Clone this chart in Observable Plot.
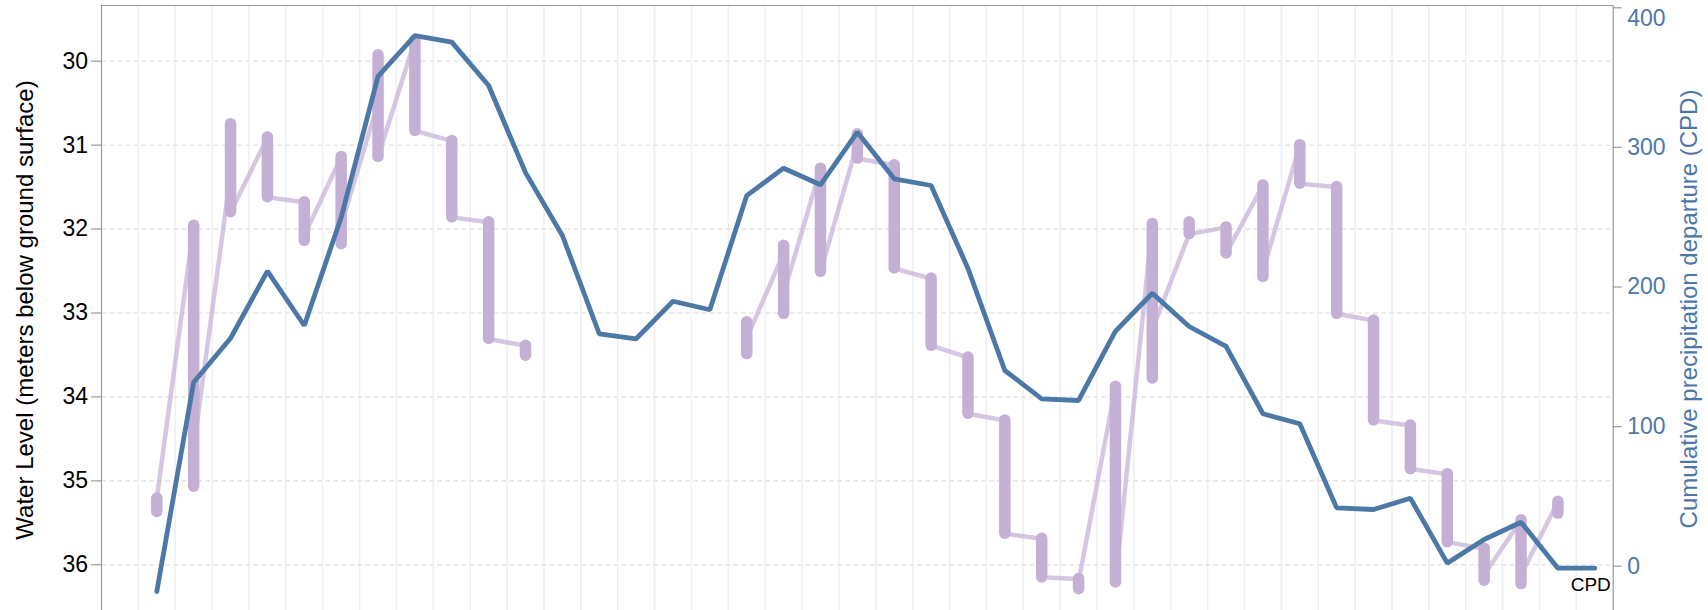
<!DOCTYPE html>
<html>
<head>
<meta charset="utf-8">
<script src="https://cdn.jsdelivr.net/npm/d3@7"></script>
<script src="https://cdn.jsdelivr.net/npm/@observablehq/plot@0.6"></script>
<style>
  html, body { margin: 0; padding: 0; background: #fff; overflow: hidden; }
</style>
</head>
<body>
<div id="chart"></div>
<script>
// ---- Data ----
// Month index (one band per month) for the cumulative precipitation departure
const cpdMonth = [1, 2, 3, 4, 5, 6, 7, 8, 9, 10, 11, 12, 13, 14, 15, 16, 17, 18, 19, 20,
                  21, 22, 23, 24, 25, 26, 27, 28, 29, 30, 31, 32, 33, 34, 35, 36, 37, 38, 39, 40];
const cpdValue = [-18.1, 131.8, 163.3, 211.3, 172.4, 249.8, 350.8, 380.1, 375.4, 344.3,
                  281.9, 236.9, 166.5, 162.9, 189.8, 183.7, 265.5, 285.1, 273.2, 310.9,
                  277.5, 272.7, 213.3, 140.2, 119.9, 118.7, 168.3, 195.5, 171.7, 157.4,
                  109.2, 102.0, 41.8, 40.6, 48.7, 2.2, 19.1, 31.5, -1.4, -1.4];

// Water level readings (meters below ground surface), in order, per month
const wlMonth = [1, 2, 3, 4, 5, 6, 7, 8, 9, 10, 11,
                 17, 18, 19, 20, 21, 22, 23, 24, 25, 26, 27, 28, 29, 30, 31, 32, 33, 34, 35, 36, 37, 38, 39];
const wlReadings = [
  [35.37, 35.21],
  [31.96, 35.07, 34.60],
  [31.35, 30.75, 31.80],
  [30.91, 31.62],
  [31.68, 32.14, 32.08],
  [31.14, 32.18, 31.95],
  [30.50, 29.93, 31.14],
  [29.75, 30.83],
  [30.95, 31.86],
  [31.92, 33.31],
  [33.39, 33.51],
  [33.11, 33.49, 33.30],
  [32.29, 32.20, 33.01, 32.77],
  [31.28, 32.51],
  [30.98, 30.87, 31.16],
  [31.24, 32.47],
  [32.59, 33.39],
  [33.53, 34.20],
  [34.28, 35.63],
  [35.69, 36.15],
  [36.17, 36.29, 36.20],
  [33.88, 36.21],
  [31.94, 33.78, 33.20],
  [32.06, 31.92, 32.06],
  [31.98, 32.29],
  [31.48, 32.57, 32.50],
  [31.00, 31.46],
  [31.50, 33.01],
  [33.09, 34.28],
  [34.34, 34.86],
  [34.92, 35.73],
  [35.81, 36.19, 36.12],
  [35.47, 36.23, 36.12],
  [35.25, 35.39]
];

const wlTicks = [30, 31, 32, 33, 34, 35, 36];
const cpdTicks = [0, 100, 200, 300, 400];
const wlTitle = "Water Level (meters below ground surface)";
const cpdTitle = "Cumulative precipitation departure (CPD)";
const cpdLabel = "CPD";

// ---- Layout ----
const W = 1708, H = 610;
const mL = 101, mR = 95.3, mT = 5, mB = 0;
const ppu = (W - mL - mR) / 41;   // pixels per month band
const wlTop = 29.3363, wlBottom = 36.5448;
// secondary axis mapping (CPD -> water-level coordinate)
const cpdScale = d3.scaleLinear().domain([0, 400]).range([36.0169, 29.3636]);

const purple = "#c5b0d5";
const blue = "#4c78a8";
const axisGray = "#9a9a9a";
const font = "Liberation Sans, Arial, Helvetica, sans-serif";

// ---- Derived tables ----
const cpd = cpdMonth.map((m, i) => ({month: m, value: cpdValue[i]}));
const wlPoints = [];
let seg = 0;
wlMonth.forEach((m, i) => {
  if (i > 0 && m - wlMonth[i - 1] > 1) seg++;
  wlReadings[i].forEach(v => wlPoints.push({month: m, level: v, seg}));
});
const wlBars = wlMonth.map((m, i) => ({month: m, lo: d3.min(wlReadings[i]), hi: d3.max(wlReadings[i])}));
const gridX = d3.range(1, 41).map(k => k - 0.5);

const xs = v => v;

const chart = Plot.plot({
  width: W,
  height: H,
  marginLeft: mL,
  marginRight: mR,
  marginTop: mT,
  marginBottom: mB,
  style: {fontFamily: font, background: "#fff", overflow: "visible"},
  x: {domain: [-0.5, 40.5], axis: null},
  y: {domain: [wlBottom, wlTop], axis: null},
  marks: [
    // grid
    Plot.ruleX(gridX, {x: xs, stroke: "#efefef", strokeWidth: 1.5}),
    Plot.ruleY(wlTicks, {y: xs, stroke: "#e6e6e6", strokeWidth: 1.5, strokeDasharray: "5,3"}),
    // frame lines
    Plot.ruleX([-0.5, 40.5], {x: xs, stroke: axisGray, strokeWidth: 1.2}),
    Plot.ruleY([wlTop], {y: xs, stroke: axisGray, strokeWidth: 1.2}),
    // left axis ticks + labels
    Plot.ruleY(wlTicks, {y: xs, x1: -0.5 - 10 / ppu, x2: -0.5, stroke: axisGray, strokeWidth: 1.2}),
    Plot.text(wlTicks, {y: xs, text: d => String(d), frameAnchor: "left", textAnchor: "end",
      dx: -13.5, fontSize: 23, fill: "#000", fontFamily: font}),
    Plot.text([wlTitle], {text: xs, frameAnchor: "left", textAnchor: "middle", rotate: -90, dx: -76, dy: 2,
      fontSize: 24, fill: "#000", fontFamily: font}),
    // right axis ticks + labels
    Plot.ruleY(cpdTicks, {y: d => cpdScale(d), x1: 40.5, x2: 40.5 + 9 / ppu, stroke: axisGray, strokeWidth: 1.2}),
    Plot.text(cpdTicks.filter(d => d !== 400), {y: d => cpdScale(d), text: d => String(d), frameAnchor: "right",
      textAnchor: "start", dx: 14, fontSize: 23, fill: blue, fontFamily: font}),
    Plot.text(cpdTicks.filter(d => d === 400), {y: d => cpdScale(d), text: d => String(d), frameAnchor: "right",
      textAnchor: "start", dx: 14, dy: 11, fontSize: 23, fill: blue, fontFamily: font}),
    Plot.text([cpdTitle], {text: xs, frameAnchor: "right", textAnchor: "middle", rotate: -90, dx: 76, dy: 1,
      fontSize: 24, fill: blue, fontFamily: font}),
    // water level: thin connecting line, then dense reading bars
    Plot.line(wlPoints, {x: "month", y: "level", z: "seg", stroke: purple, strokeOpacity: 0.72,
      strokeWidth: 4.5, strokeLinejoin: "round"}),
    Plot.ruleX(wlBars, {x: "month", y1: "lo", y2: "hi", stroke: purple, strokeWidth: 11.5, strokeLinecap: "round"}),
    // CPD line
    Plot.line(cpd, {x: "month", y: d => cpdScale(d.value), stroke: blue, strokeWidth: 4.8, strokeLinejoin: "miter"}),
    Plot.text(cpd.slice(-1), {x: "month", y: d => cpdScale(d.value), text: () => cpdLabel,
      dx: -4, dy: 17, fontSize: 19, fill: "#000", fontFamily: font})
  ]
});
document.getElementById("chart").appendChild(chart);
</script>
</body>
</html>
